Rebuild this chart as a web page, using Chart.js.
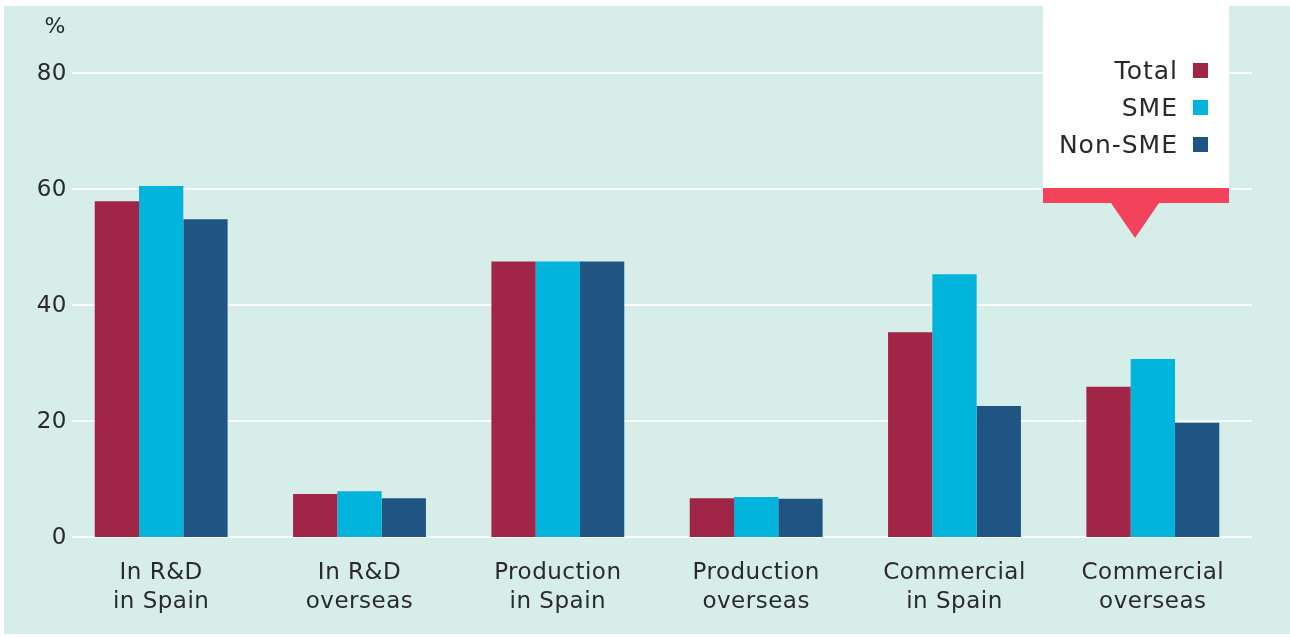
<!DOCTYPE html>
<html>
<head>
<meta charset="utf-8">
<script src="https://cdn.jsdelivr.net/npm/chart.js@4.4.1/dist/chart.umd.min.js"></script>
<style>
  html, body { margin: 0; padding: 0; background: #fff; }
  #wrap { position: relative; width: 1290px; height: 637px; overflow: hidden; }
  #panel { position: absolute; left: 4px; top: 6px; width: 1286px; height: 628px; background: #d7edea; }
  #chart { position: absolute; left: 0; top: 0; }
  #legendBox { position: absolute; left: 1043px; top: 0; width: 186px; height: 188px; background: #fff; }
  #legendBand { position: absolute; left: 1043px; top: 188px; width: 186px; height: 15px; background: #f2435a; }
  #legendArrow { position: absolute; left: 1111px; top: 203px; width: 0; height: 0;
    border-left: 24px solid transparent; border-right: 24px solid transparent; border-top: 35px solid #f2435a; }
  #legendList { position: absolute; right: 21px; top: 52px; font-family: "DejaVu Sans", sans-serif;
    font-size: 25px; color: #2a2a2a; letter-spacing: 1px; }
  .row { display: flex; justify-content: flex-end; align-items: center; height: 37px; }
  .row span.sw { display: inline-block; width: 15px; height: 15px; margin-left: 15px; }
</style>
</head>
<body>
<div id="wrap">
  <div id="panel"></div>
  <canvas id="chart" width="1290" height="637"></canvas>
  <div id="legendBox"><div id="legendList"></div></div>
  <div id="legendBand"></div>
  <div id="legendArrow"></div>
</div>
<script>
// categories and series (% of firms)
var categorias = [
  ['In R&D', 'in Spain'],
  ['In R&D', 'overseas'],
  ['Production', 'in Spain'],
  ['Production', 'overseas'],
  ['Commercial', 'in Spain'],
  ['Commercial', 'overseas']
];
var total  = [57.9, 7.4, 47.5, 6.7, 35.3, 25.9];
var pyme   = [60.5, 7.9, 47.5, 6.9, 45.3, 30.7];
var noPyme = [54.8, 6.7, 47.5, 6.6, 22.6, 19.7];
var ticksY = [0, 20, 40, 60, 80];

var colores = ['#a02546', '#00b4db', '#1f5483'];
var textColor = '#2a2a2a';

// white grid lines + y labels; lines start a little right of the first category
var ejeY = {
  id: 'ejeY',
  beforeDatasetsDraw: function (chart) {
    var ctx = chart.ctx, y = chart.scales.y, area = chart.chartArea;
    ctx.save();
    ctx.strokeStyle = 'rgba(255,255,255,0.95)';
    ctx.lineWidth = 2;
    ctx.fillStyle = textColor;
    ctx.font = '23px "DejaVu Sans"';
    ctx.textAlign = 'right';
    ctx.textBaseline = 'middle';
    y.ticks.forEach(function (t) {
      var py = Math.round(y.getPixelForValue(t.value));
      ctx.beginPath();
      ctx.moveTo(area.left + 10, py);
      ctx.lineTo(area.right, py);
      ctx.stroke();
      ctx.fillText(String(t.value), area.left + 5, py + 1);
    });
    // unit above the axis
    ctx.font = '22px "DejaVu Sans"';
    ctx.fillText('%', area.left + 4, 27);
    ctx.restore();
  }
};

// slightly wider spacing for the axis text
var espaciado = {
  id: 'espaciado',
  beforeDraw: function (chart) { chart.ctx.letterSpacing = '0.5px'; }
};

var ctx = document.getElementById('chart');
var chart = new Chart(ctx, {
  type: 'bar',
  data: {
    labels: categorias,
    datasets: [
      { label: 'Total', data: total, backgroundColor: colores[0] },
      { label: 'SME', data: pyme, backgroundColor: colores[1] },
      { label: 'Non-SME', data: noPyme, backgroundColor: colores[2] }
    ]
  },
  options: {
    responsive: false,
    animation: false,
    devicePixelRatio: 1,
    layout: { padding: { top: 73, right: 38, left: 0, bottom: 0 } },
    datasets: { bar: { categoryPercentage: 0.67, barPercentage: 1.0 } },
    plugins: { legend: { display: false }, tooltip: { enabled: false } },
    scales: {
      x: {
        grid: { display: false, drawTicks: false },
        border: { display: false },
        afterFit: function (s) { s.height = 100; },
        ticks: {
          padding: 21,
          color: textColor,
          font: { family: 'DejaVu Sans', size: 23, lineHeight: 1.28 }
        }
      },
      y: {
        min: 0,
        max: 80,
        grid: { display: false, drawTicks: false },
        border: { display: false },
        afterFit: function (s) { s.width = 62; },
        afterBuildTicks: function (s) { s.ticks = ticksY.map(function (v) { return { value: v }; }); },
        ticks: { display: false }
      }
    }
  },
  plugins: [espaciado, ejeY]
});

// legend: label text followed by its colour square
var list = document.getElementById('legendList');
chart.data.datasets.forEach(function (ds) {
  var row = document.createElement('div');
  row.className = 'row';
  var txt = document.createElement('span');
  txt.textContent = ds.label;
  var sw = document.createElement('span');
  sw.className = 'sw';
  sw.style.background = ds.backgroundColor;
  row.appendChild(txt);
  row.appendChild(sw);
  list.appendChild(row);
});
</script>
</body>
</html>
